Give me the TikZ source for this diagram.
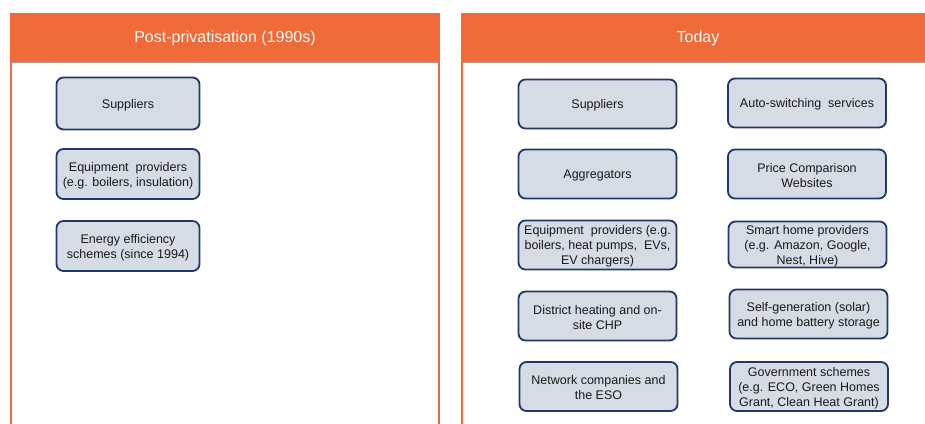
\documentclass[tikz,border=0pt]{standalone}
\usepackage{fontspec}
\setmainfont{Liberation Sans}
\definecolor{hdr}{RGB}{240,106,58}
\definecolor{hdrgray}{RGB}{190,150,135}
\definecolor{boxfill}{RGB}{214,220,229}
\definecolor{boxline}{RGB}{32,56,100}
\begin{document}
\begin{tikzpicture}[x=1pt,y=-1pt,
  panelside/.style={draw=hdr,line width=2pt},
  header/.style={fill=hdr,draw=none},
  hdrtext/.style={text=white,font=\fontsize{16}{19}\selectfont,inner sep=0pt},
  itembox/.style={draw=boxline,fill=boxfill,line width=1.8pt,rounded corners=7pt,inner sep=0pt},
  leftbox/.style={itembox,minimum width=143pt,minimum height=50pt},
  rightbox/.style={itembox,minimum width=158pt,minimum height=49pt},
  boxtext/.style={align=center,inner sep=0pt,font=\fontsize{12.5}{15}\selectfont,text=black!90}]
\useasboundingbox (0,0) rectangle (925,423);
% left panel
\fill[header] (10,13) rectangle (440,62);
\draw[hdrgray,line width=0.8pt] (11,62) -- (439,62);
\draw[panelside] (11,62) -- (11,430);
\draw[panelside,draw=hdr!80!gray] (439,62) -- (439,430);
\node[hdrtext] (h1) at (225,38) {Post-privatisation (1990s)};
% right panel
\fill[header] (461,13) rectangle (940,62);
\draw[hdrgray,line width=0.8pt] (462,62) -- (940,62);
\draw[panelside] (462,62) -- (462,430);
\node[hdrtext] (h2) at (698,38) {Today};
% left boxes
\node[leftbox,minimum height=52pt] (l1) at (128,103.5) {};
\node[leftbox] (l2) at (128,174) {};
\node[leftbox] (l3) at (128,246) {};
\node[boxtext] (t1) at ([yshift=-1.5pt]l1.center) {Suppliers};
\node[boxtext] (t2) at ([yshift=-1.5pt]l2.center) {Equipment\ \ providers\\(e.g. boilers, insulation)};
\node[boxtext] (t3) at ([yshift=-1.5pt]l3.center) {Energy efficiency\\schemes (since 1994)};
% right column 1
\node[rightbox] (r1) at (597.5,104) {};
\node[rightbox] (r2) at (597.5,174) {};
\node[rightbox] (r3) at (597.5,245) {};
\node[rightbox] (r4) at (597.5,316) {};
\node[rightbox] (r5) at (598.5,386.5) {};
\node[boxtext] (u1) at ([yshift=-1.5pt]r1.center) {Suppliers};
\node[boxtext] (u2) at ([yshift=-1.5pt]r2.center) {Aggregators};
\node[boxtext] (u3) at ([yshift=-1.5pt]r3.center) {Equipment\ \ providers (e.g.\\boilers, heat pumps,\ \ EVs,\\EV chargers)};
\node[boxtext] (u4) at ([yshift=-1.5pt]r4.center) {District heating and on-\\site CHP};
\node[boxtext] (u5) at ([yshift=-1.5pt]r5.center) {Network companies and\\the ESO};
% right column 2
\node[rightbox] (s1) at (807,103) {};
\node[rightbox] (s2) at (807,174) {};
\node[rightbox,minimum height=46pt] (s3) at (807.5,244.5) {};
\node[rightbox] (s4) at (808.5,314) {};
\node[rightbox] (s5) at (809,386.5) {};
\node[boxtext] (v1) at ([yshift=-1.5pt]s1.center) {Auto-switching\ \ services};
\node[boxtext] (v2) at ([yshift=-1.5pt]s2.center) {Price Comparison\\Websites};
\node[boxtext] (v3) at ([yshift=-1.5pt]s3.center) {Smart home providers\\(e.g. Amazon, Google,\\Nest, Hive)};
\node[boxtext] (v4) at ([yshift=-1.5pt]s4.center) {Self-generation (solar)\\and home battery storage};
\node[boxtext] (v5) at ([yshift=-1.5pt]s5.center) {Government schemes\\(e.g. ECO, Green Homes\\Grant, Clean Heat Grant)};
\end{tikzpicture}
\end{document}
